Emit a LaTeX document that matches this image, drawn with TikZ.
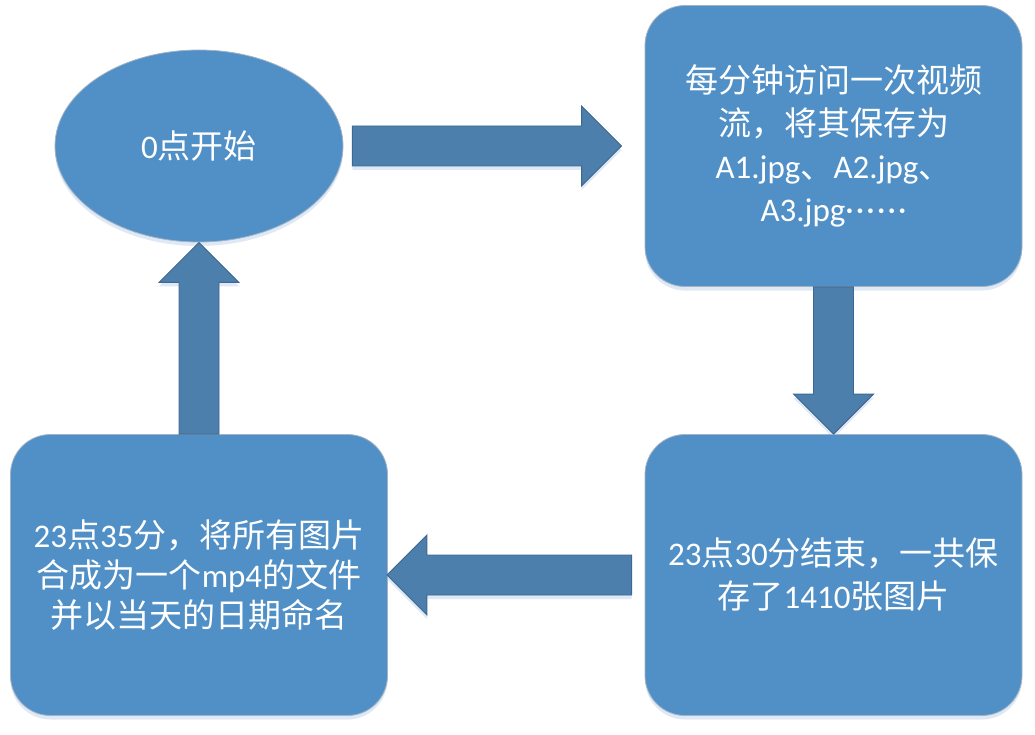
\documentclass[tikz,border=0pt]{standalone}
\usepackage{fontspec}
\setmainfont{Carlito}
\newfontfamily\cjk{Noto Sans CJK SC}
\usetikzlibrary{shapes.geometric,calc,shadows}
\newcommand\zh[1]{{\cjk #1}}
\newcommand\middots{\raisebox{0.02em}{·\kern2.2pt·\kern2.2pt·\kern2.2pt·\kern2.2pt·\kern2.2pt·}}
\definecolor{boxfill}{HTML}{5090C7}
\definecolor{boxline}{HTML}{A3B3C3}
\definecolor{arrfill}{HTML}{4C7FAC}
\definecolor{arrline}{HTML}{3E6792}
\definecolor{glow}{HTML}{D6E4F2}
\pgfdeclarelayer{bg}
\pgfsetlayers{bg,main}
\tikzset{
  glowshadow/.style={drop shadow={shadow xshift=0pt,shadow yshift=-4pt,fill=glow,opacity=0.8}},
  shapebox/.style={fill=boxfill,draw=boxline,line width=0.8pt,text=white,align=center,inner sep=0pt,glowshadow},
  flowbox/.style={shapebox,rectangle,rounded corners=40pt,minimum width=377pt,minimum height=281pt},
  startell/.style={shapebox,ellipse,minimum width=288pt,minimum height=192pt},
  blk/.style={fill=arrfill,draw=arrline,line width=0.9pt,line join=miter},
  blkglow/.style={fill=glow,opacity=0.8,transform canvas={yshift=-4pt}},
  txt/.style={font=\fontsize{33}{#1}\selectfont},
}
\newcommand\arrowpath[1]{($(#1s)!20pt!90:(#1t)$) -- ($(#1n)!20pt!90:(#1t)$) -- ($(#1n)!40pt!90:(#1t)$)
    -- (#1t) -- ($(#1n)!40pt!-90:(#1t)$) -- ($(#1n)!20pt!-90:(#1t)$) -- ($(#1s)!20pt!-90:(#1t)$) -- cycle}
\newcommand\blockarrow[3]{%
  \coordinate (#3s) at #1;
  \coordinate (#3t) at #2;
  \coordinate (#3n) at ($(#3t)!40pt!(#3s)$);
  \begin{pgfonlayer}{bg}\path[blkglow] \arrowpath{#3};\end{pgfonlayer}
  \draw[blk] \arrowpath{#3};}
\begin{document}
\begin{tikzpicture}[x=1pt,y=-1pt]
\useasboundingbox (0,0) rectangle (1035,735);
\node[startell,txt=40] (e) at (199,146) {0\zh{点开始}};
\node[flowbox,txt=43] (b1) at (833.5,146) {\zh{每分钟访问一次视频}\\\zh{流，将其保存为}\\A1.jpg\zh{、}A2.jpg\zh{、}\\A3.jpg\middots};
\node[flowbox,txt=43] (b2) at (833.5,575) {23\zh{点}30\zh{分结束，一共保}\\\zh{存了}1410\zh{张图片}};
\node[flowbox,txt=40] (b3) at (199,575) {23\zh{点}35\zh{分，将所有图片}\\\zh{合成为一个}mp4\zh{的文件}\\\zh{并以当天的日期命名}};
\blockarrow{($(e.east)+(9,0)$)}{($(b1.west)+(-23,0)$)}{ar}
\blockarrow{(b1.south)}{(b2.north)}{ad}
\blockarrow{($(b2.west)+(-13,0)$)}{($(b3.east)+(-1,0)$)}{al}
\blockarrow{(b3.north)}{(e.south)}{au}
\end{tikzpicture}
\end{document}
